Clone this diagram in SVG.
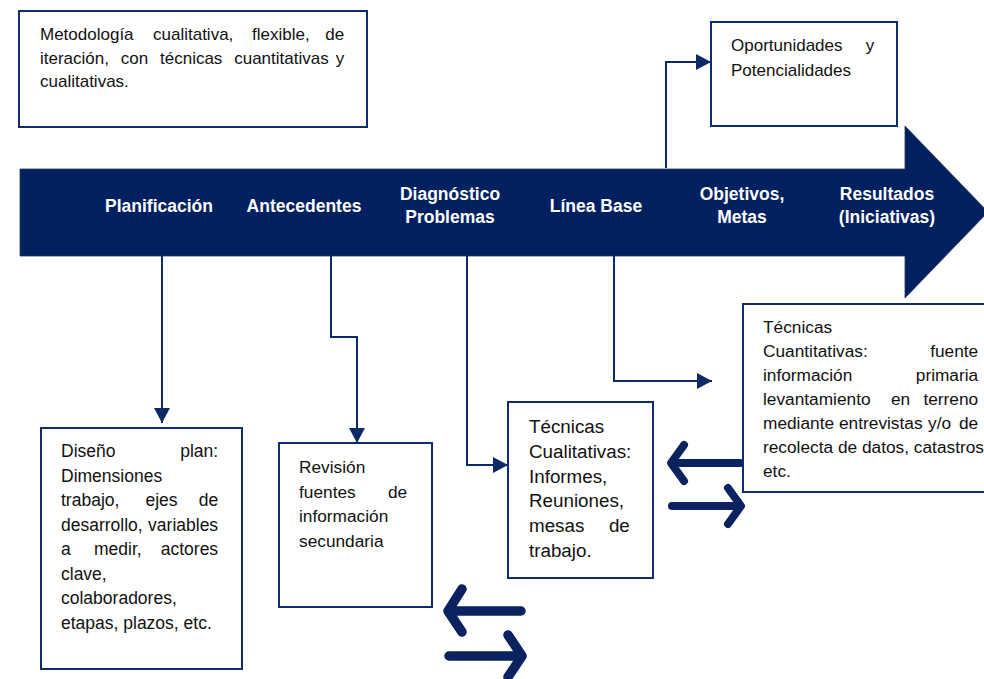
<svg xmlns="http://www.w3.org/2000/svg" width="984" height="679" viewBox="0 0 984 679">
<defs>
<style>
.box{fill:#fff;stroke:#0f2c6b;stroke-width:2}
.t{font-family:"Liberation Sans",Arial,sans-serif;fill:#111}
.lbl{font-family:"Liberation Sans",Arial,sans-serif;font-weight:bold;font-size:17.5px;fill:#fff;text-anchor:middle}
.con{fill:none;stroke:#0e2a66;stroke-width:2}
.thick{fill:none;stroke:#0b2260;stroke-linecap:round;stroke-linejoin:round}
</style>
<marker id="ah" markerUnits="userSpaceOnUse" markerWidth="16" markerHeight="16" viewBox="0 0 15 16" refX="15" refY="8" orient="auto">
<path d="M0,0 L15,8 L0,16 z" fill="#0e2a66"/>
</marker>
</defs>

<g id="timeline">
<polygon points="20,169 905,169 905,126 988,212 905,298 905,256 20,256" fill="#002060" stroke="#2b3550" stroke-width="0.8"/>
<text class="lbl" x="159" y="211.5">Planificación</text>
<text class="lbl" x="304" y="211.5">Antecedentes</text>
<text class="lbl" x="450"><tspan x="450" y="200">Diagnóstico</tspan><tspan x="450" y="223">Problemas</tspan></text>
<text class="lbl" x="596" y="211.5">Línea Base</text>
<text class="lbl" x="742"><tspan x="742" y="200">Objetivos,</tspan><tspan x="742" y="223">Metas</tspan></text>
<text class="lbl" x="887"><tspan x="887" y="200">Resultados</tspan><tspan x="887" y="223">(Iniciativas)</tspan></text>
</g>

<g id="connectors">
<path class="con" d="M162,256 V423" marker-end="url(#ah)"/>
<path class="con" d="M331,256 V337 H357 V443" marker-end="url(#ah)"/>
<path class="con" d="M467,256 V465 H508" marker-end="url(#ah)"/>
<path class="con" d="M614,256 V381 H712" marker-end="url(#ah)"/>
<path class="con" d="M666,168 V62 H711" marker-end="url(#ah)"/>
<g id="exchange1" class="thick" stroke-width="8">
<path d="M740,463 H672 M684,445 L671,463 L684,481"/>
<path d="M672,506 H740 M728,488 L741,506 L728,524"/>
</g>
<g id="exchange2" class="thick" stroke-width="9.5">
<path d="M521,611 H449 M462,589 L448,611 L462,632"/>
<path d="M449,656 H521 M508,635 L522,656 L508,677"/>
</g>
</g>

<g id="metodologia">
<rect class="box" x="19" y="11" width="348" height="116"/>
<text class="t" font-size="17">
<tspan x="40" y="40">Metodología</tspan><tspan x="153" y="40">cualitativa,</tspan><tspan x="252" y="40">flexible,</tspan><tspan x="349" y="40" text-anchor="end">de</tspan>
<tspan x="40" y="63.5">iteración,</tspan><tspan x="120.8" y="63.5">con</tspan><tspan x="160" y="63.5">técnicas</tspan><tspan x="234.2" y="63.5">cuantitativas</tspan><tspan x="349" y="63.5" text-anchor="end">y</tspan>
<tspan x="40" y="87">cualitativas.</tspan>
</text>
</g>

<g id="oportunidades">
<rect class="box" x="711" y="22" width="186" height="104"/>
<text class="t" font-size="17">
<tspan x="731" y="51">Oportunidades</tspan><tspan x="879" y="51" text-anchor="end">y</tspan>
<tspan x="731" y="75.5">Potencialidades</tspan>
</text>
</g>

<g id="diseno">
<rect class="box" x="41" y="428" width="201" height="241"/>
<text class="t" font-size="17.5">
<tspan x="61" y="457">Diseño</tspan><tspan x="223" y="457" text-anchor="end">plan:</tspan>
<tspan x="61" y="481.5">Dimensiones</tspan>
<tspan x="61" y="506">trabajo,</tspan><tspan x="145.5" y="506">ejes</tspan><tspan x="223" y="506" text-anchor="end">de</tspan>
<tspan x="61" y="530.5">desarrollo,</tspan><tspan x="223" y="530.5" text-anchor="end">variables</tspan>
<tspan x="61" y="555">a</tspan><tspan x="94" y="555">medir,</tspan><tspan x="223" y="555" text-anchor="end">actores</tspan>
<tspan x="61" y="579.5">clave,</tspan>
<tspan x="61" y="604">colaboradores,</tspan>
<tspan x="61" y="628.5">etapas, plazos, etc.</tspan>
</text>
</g>

<g id="revision">
<rect class="box" x="279" y="443" width="153" height="164"/>
<text class="t" font-size="17.3">
<tspan x="299" y="473">Revisión</tspan>
<tspan x="299" y="497.5">fuentes</tspan><tspan x="412" y="497.5" text-anchor="end">de</tspan>
<tspan x="299" y="522">información</tspan>
<tspan x="299" y="546.5">secundaria</tspan>
</text>
</g>

<g id="cualitativas">
<rect class="box" x="508" y="402" width="145" height="176"/>
<text class="t" font-size="18.8">
<tspan x="529" y="433">Técnicas</tspan>
<tspan x="529" y="457.8">Cualitativas:</tspan>
<tspan x="529" y="482.6">Informes,</tspan>
<tspan x="529" y="507.4">Reuniones,</tspan>
<tspan x="529" y="532.2">mesas</tspan><tspan x="635" y="532.2" text-anchor="end">de</tspan>
<tspan x="529" y="557">trabajo.</tspan>
</text>
</g>

<g id="cuantitativas">
<rect class="box" x="743" y="304" width="260" height="188"/>
<text class="t" font-size="17.3">
<tspan x="763" y="333">Técnicas</tspan>
<tspan x="763" y="357">Cuantitativas:</tspan><tspan x="983" y="357" text-anchor="end">fuente</tspan>
<tspan x="763" y="381">información</tspan><tspan x="983" y="381" text-anchor="end">primaria</tspan>
<tspan x="763" y="405">levantamiento</tspan><tspan x="891" y="405">en</tspan><tspan x="983" y="405" text-anchor="end">terreno</tspan>
<tspan x="763" y="429">mediante</tspan><tspan x="839" y="429">entrevistas</tspan><tspan x="928" y="429">y/o</tspan><tspan x="983" y="429" text-anchor="end">de</tspan>
<tspan x="763" y="453">recolecta de datos, catastros</tspan>
<tspan x="763" y="477">etc.</tspan>
</text>
</g>
</svg>
